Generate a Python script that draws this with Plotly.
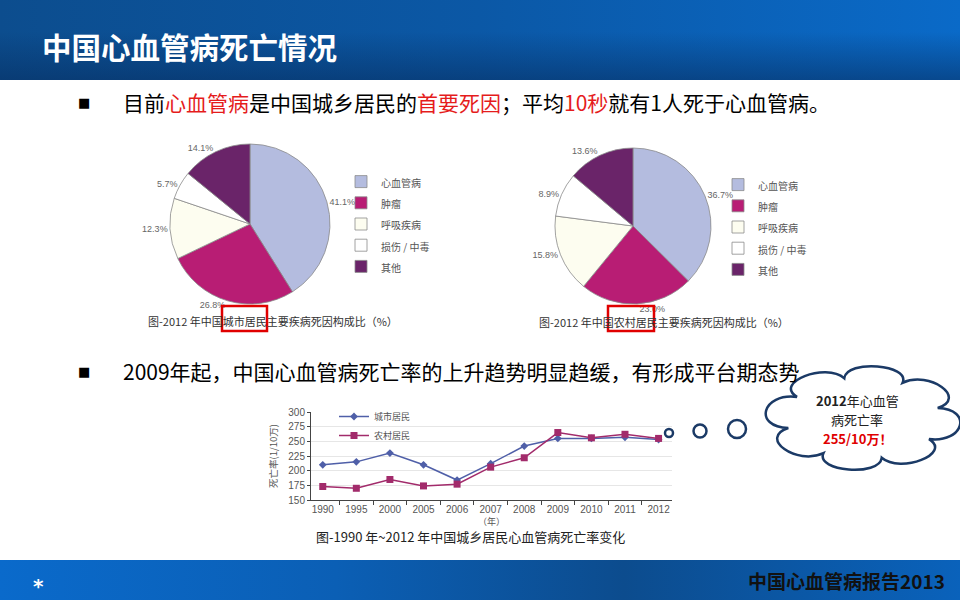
import numpy as np
import plotly.graph_objects as go

# pie data (2012, % of deaths)
causes = ["心血管病", "肿瘤", "呼吸疾病", "损伤 / 中毒", "其他"]
urban_share = [41.1, 26.8, 12.3, 5.7, 14.1]
rural_share = [36.7, 23.0, 15.8, 8.9, 13.6]
cause_colors = ["#B4BCDF", "#B81D74", "#FDFDF0", "#FFFFFF", "#6A2469"]

# line data: CVD death rate per 100k
years = ["1990", "1995", "2000", "2005", "2006", "2007", "2008", "2009", "2010", "2011", "2012"]
urban_rate = [210, 215, 230, 210, 184, 212, 242, 255, 255, 257, 253]
rural_rate = [173, 170, 185, 174, 177, 206, 222, 265, 256, 262, 255]

W, H = 960, 600
CJK = "Noto Sans CJK SC"


def fx(v):
    return v / W


def fy(v):
    return 1 - v / H


def note(x, y, text, size, color, anchor="left", family=CJK):
    # annotations placed in page pixels (x4/y4 axis)
    fig.add_annotation(x=x, y=y, xref="x4", yref="y4", text=text, showarrow=False,
                       xanchor=anchor, yanchor="middle", align="center",
                       font=dict(size=size, color=color, family=family))


def small(label):
    # small legend text inside a taller legend row
    return "<span style='font-size:10px'>%s</span>" % label


fig = go.Figure()

# page background bands (header / footer) on a full-page pixel axis
band = dict(xaxis="x4", yaxis="y4", mode="lines", fill="toself", line=dict(width=0),
            showlegend=False, hoverinfo="skip")
fig.add_trace(go.Scatter(
    x=[0, W, W, 0, 0], y=[0, 0, 80, 80, 0],
    fillgradient=dict(type="horizontal", colorscale=[[0, "#0c4d8e"], [0.5, "#0b58a6"], [1, "#0a6ac8"]]),
    **band))
fig.add_trace(go.Scatter(
    x=[0, W, W, 0, 0], y=[0, 0, 80, 80, 0],
    fillgradient=dict(type="vertical", colorscale=[[0, "rgba(6,45,95,0.55)"], [0.6, "rgba(6,45,95,0)"],
                                                   [1, "rgba(6,45,95,0)"]]),
    **band))
fig.add_trace(go.Scatter(
    x=[0, W, W, 0, 0], y=[560, 560, H, H, 560],
    fillgradient=dict(type="horizontal", colorscale=[[0, "#0a6acb"], [0.35, "#0b5fb5"], [0.65, "#0c4c8e"], [1, "#0a62bb"]]),
    **band))

# pies
pie_style = dict(
    sort=False, direction="clockwise", rotation=0,
    marker=dict(colors=cause_colors, line=dict(color="#8a8a8a", width=0.8)),
    texttemplate="%{value:.1f}%", textposition="outside",
    textfont=dict(size=9, color="#666666", family="Liberation Sans"),
    hoverinfo="label+value",
)
fig.add_trace(go.Pie(labels=[small(c) for c in causes], values=urban_share, legend="legend",
                     domain=dict(x=[fx(170), fx(330)], y=[fy(304), fy(144)]), **pie_style))
fig.add_trace(go.Pie(labels=[small(c) + " " for c in causes], values=rural_share, legend="legend2",
                     domain=dict(x=[fx(555), fx(711)], y=[fy(306), fy(146)]), **pie_style))

# line chart
fig.add_trace(go.Scatter(x=years, y=urban_rate, name="城市居民", mode="lines+markers", legend="legend3",
                         line=dict(color="#4F5FA8", width=1.5),
                         marker=dict(symbol="diamond", size=6, color="#4F5FA8")))
fig.add_trace(go.Scatter(x=years, y=rural_rate, name="农村居民", mode="lines+markers", legend="legend3",
                         line=dict(color="#A22B6B", width=1.5),
                         marker=dict(symbol="square", size=7, color="#A22B6B")))

tick_font = dict(size=10, color="#555555", family="Liberation Sans")
legend_font = dict(size=14, color="#555555", family=CJK)

fig.update_layout(
    width=W, height=H, margin=dict(l=0, r=0, t=0, b=0, autoexpand=False),
    paper_bgcolor="white", plot_bgcolor="rgba(0,0,0,0)",
    xaxis=dict(domain=[fx(311), fx(672)], type="category", range=[-0.35, 10.4],
               showline=True, linecolor="#444444", linewidth=1, ticks="outside", tickson="boundaries",
               ticklen=4, tickcolor="#444444", showgrid=False, tickfont=tick_font,
               title=dict(text="（年）", font=dict(size=9, color="#555555", family=CJK), standoff=0)),
    yaxis=dict(domain=[fy(500), fy(412)], range=[150, 300], dtick=25,
               showline=True, linecolor="#444444", linewidth=1, ticks="outside", ticklen=3,
               tickcolor="#444444", gridcolor="#e6e6e6", zeroline=False, tickfont=tick_font,
               title=dict(text="死亡率(1/10万)", font=dict(size=9.5, color="#555555", family=CJK), standoff=8)),
    xaxis4=dict(domain=[0, 1], range=[0, W], visible=False, fixedrange=True),
    yaxis4=dict(domain=[0, 1], range=[H, 0], visible=False, fixedrange=True),
    legend=dict(x=fx(341), y=fy(166), xanchor="left", yanchor="top", font=legend_font,
                bgcolor="rgba(0,0,0,0)"),
    legend2=dict(x=fx(718), y=fy(169), xanchor="left", yanchor="top", font=legend_font,
                 bgcolor="rgba(0,0,0,0)"),
    legend3=dict(x=fx(334), y=fy(402), xanchor="left", yanchor="top", font=dict(size=9, color="#555555", family=CJK),
                 bgcolor="rgba(0,0,0,0)", tracegroupgap=0),
    showlegend=True,
)

# header / body text
note(40, 46, "<b>中国心血管病死亡情况</b>", 29.5, "white")
note(84, 102, "■", 13, "black", anchor="center", family="DejaVu Sans")
red = "#E51C1C"
line1 = ("目前<span style='color:%s'>心血管病</span>是中国城乡居民的<span style='color:%s'>首要死因</span>"
         "；平均<span style='color:%s'>10秒</span>就有1人死于心血管病。") % (red, red, red)
note(121, 102, line1, 21, "black")
note(84, 371, "■", 13, "black", anchor="center", family="DejaVu Sans")
note(121, 371, "2009年起，中国心血管病死亡率的上升趋势明显趋缓，有形成平台期态势", 21, "black")

# captions
note(146, 321, "图-2012 年中国城市居民主要疾病死因构成比（%）", 11, "#333333")
note(537, 322, "图-2012 年中国农村居民主要疾病死因构成比（%）", 11, "#333333")
note(470, 536, "图-1990 年~2012 年中国城乡居民心血管病死亡率变化", 13, "#222222", anchor="center")

# footer text
note(38, 586, "<b>*</b>", 20, "white", anchor="center", family="DejaVu Sans")
note(947, 580, "<b>中国心血管病报告2013</b>", 19, "#111111", anchor="right")

# red highlight boxes
for x0, x1 in [(222, 267), (608, 654)]:
    fig.add_shape(type="rect", xref="x4", yref="y4", x0=x0, x1=x1, y0=306, y1=331,
                  line=dict(color="#E00000", width=2.5), fillcolor="rgba(0,0,0,0)")

# thought bubble
navy = "#1B3A66"
for cx, cy, r in [(669, 433, 4), (700, 431, 6.5), (737, 429, 9)]:
    fig.add_shape(type="circle", xref="x4", yref="y4", x0=cx - r, x1=cx + r, y0=cy - r, y1=cy + r,
                  line=dict(color=navy, width=2.5), fillcolor="white")

ccx, ccy, crx, cry = 863, 418, 77, 41
n = 8
ang = np.linspace(0, 2 * np.pi, n + 1) + 0.54
d = ang[1] - ang[0]
k = 1.45
pts = [(ccx + crx * np.cos(a), ccy + cry * np.sin(a)) for a in ang]
path = "M %.1f,%.1f" % pts[0]
for i in range(n):
    a0, a1 = ang[i], ang[i + 1]
    c1 = (ccx + k * crx * np.cos(a0 + d / 8), ccy + k * cry * np.sin(a0 + d / 8))
    c2 = (ccx + k * crx * np.cos(a1 - d / 8), ccy + k * cry * np.sin(a1 - d / 8))
    path += " C %.1f,%.1f %.1f,%.1f %.1f,%.1f" % (c1 + c2 + pts[i + 1])
path += " Z"
fig.add_shape(type="path", path=path, xref="x4", yref="y4", line=dict(color=navy, width=2.5),
              fillcolor="white")

note(857, 400, "<b>2012</b>年心血管", 13, "#222222", anchor="center")
note(857, 419, "病死亡率", 13, "#222222", anchor="center")
note(857, 438, "<b>255/10万！</b>", 13, "#E00000", anchor="center")

# pin the graph to the top-left corner of the page
pin = ("document.body.style.margin='0px';"
       "var gd=document.querySelector('.plotly-graph-div');"
       "gd.style.position='fixed';gd.style.left='0px';gd.style.top='0px';")
fig.write_html("out.html", config={"displayModeBar": False}, post_script=pin)
